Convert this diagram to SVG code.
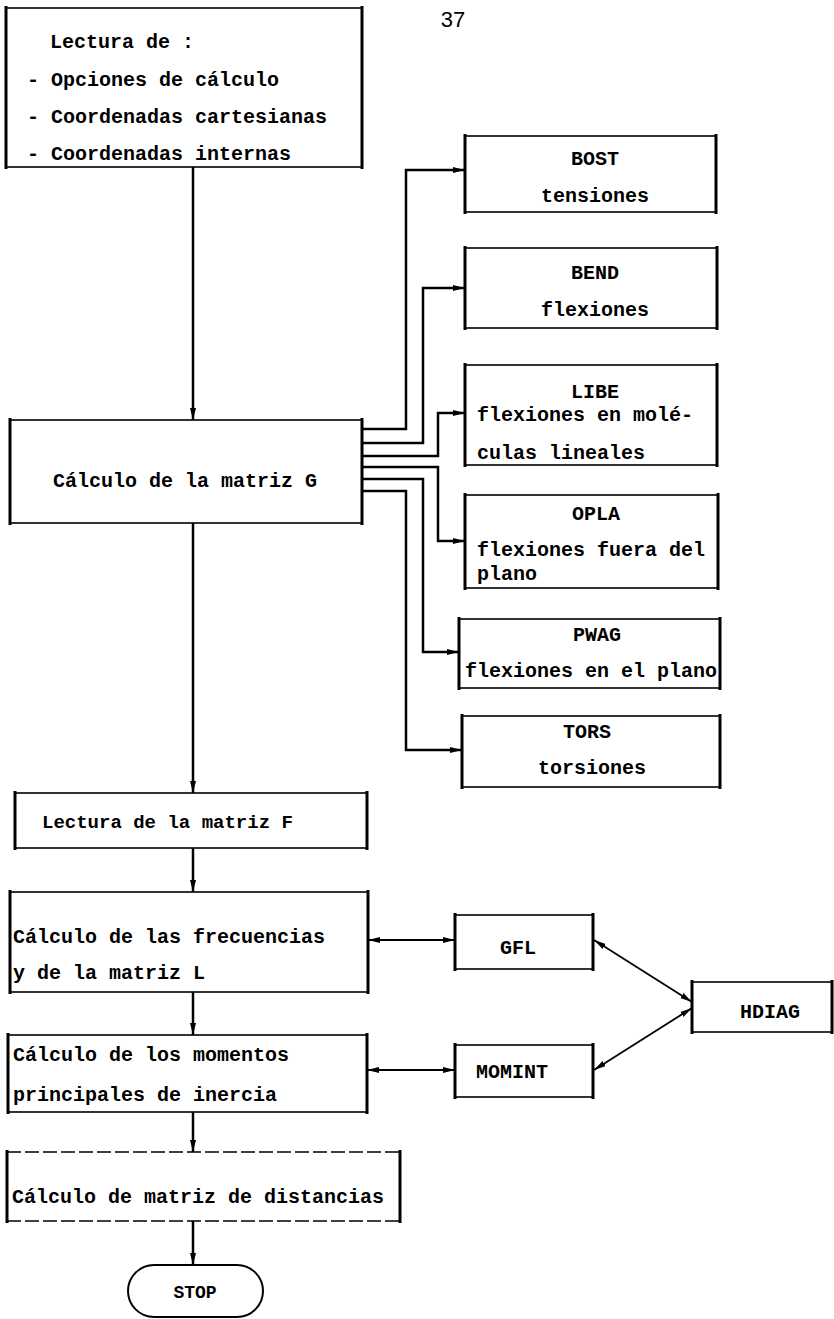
<svg xmlns="http://www.w3.org/2000/svg" width="834" height="1319" viewBox="0 0 834 1319">
<defs>
<marker id="ah" viewBox="0 0 12 8" refX="12" refY="4" markerWidth="12" markerHeight="8" markerUnits="userSpaceOnUse" orient="auto-start-reverse">
<path d="M0,1 L12,4 L0,7 z" fill="#000"/>
</marker>
<style>
.box{fill:#fff;stroke:#000;stroke-width:1.6}
.side{stroke:#000;stroke-width:3;fill:none}
.dash{stroke:#000;stroke-width:1.6;stroke-dasharray:14 4;fill:none}
.t{font-family:"Liberation Mono","DejaVu Sans Mono",monospace;font-weight:bold;font-size:20px;fill:#000}
.c{text-anchor:middle}
.w{fill:none;stroke:#000;stroke-width:2.5}
.n{fill:none;stroke:#000;stroke-width:1.8}
</style>
</defs>
<rect width="834" height="1319" fill="#fff"/>
<text x="453" y="27" font-family="Liberation Sans, sans-serif" font-size="22" text-anchor="middle" fill="#000">37</text>

<g id="connectors">
<path class="w" d="M193,167 V420" marker-end="url(#ah)"/>
<path class="w" d="M193,523 V793" marker-end="url(#ah)"/>
<path class="w" d="M193,848 V892" marker-end="url(#ah)"/>
<path class="w" d="M193,992 V1035" marker-end="url(#ah)"/>
<path class="w" d="M193,1112 V1152" marker-end="url(#ah)"/>
<path class="w" d="M193,1221 V1265" marker-end="url(#ah)"/>
<path class="w" d="M362,429 H406 V170 H465" marker-end="url(#ah)"/>
<path class="w" d="M362,443 H423 V288 H465" marker-end="url(#ah)"/>
<path class="w" d="M362,456 H438 V413 H465" marker-end="url(#ah)"/>
<path class="w" d="M362,467 H438 V541 H465" marker-end="url(#ah)"/>
<path class="w" d="M362,479 H423 V652 H459" marker-end="url(#ah)"/>
<path class="w" d="M362,491 H406 V750 H462" marker-end="url(#ah)"/>
<path class="n" d="M368,940 H455" marker-start="url(#ah)" marker-end="url(#ah)"/>
<path class="n" d="M367,1070 H455" marker-start="url(#ah)" marker-end="url(#ah)"/>
<path class="n" d="M594,940 L692,1002" marker-start="url(#ah)" marker-end="url(#ah)"/>
<path class="n" d="M594,1070 L692,1008" marker-start="url(#ah)" marker-end="url(#ah)"/>
</g>

<g id="lectura">
<rect class="box" x="6" y="8" width="356" height="159"/>
<path class="side" d="M6,6 V169 M362,6 V169"/>
<text class="t" x="50" y="48">Lectura de :</text>
<text class="t" x="27" y="86">- Opciones de cálculo</text>
<text class="t" x="27" y="123">- Coordenadas cartesianas</text>
<text class="t" x="27" y="160">- Coordenadas internas</text>
</g>

<g id="matrizG">
<rect class="box" x="10" y="420" width="352" height="103"/>
<path class="side" d="M10,418 V525 M362,418 V525"/>
<text class="t" x="53" y="487">Cálculo de la matriz G</text>
</g>

<g id="bost">
<rect class="box" x="465" y="136" width="251" height="76"/>
<path class="side" d="M465,134 V214 M716,134 V214"/>
<text class="t c" x="595" y="165">BOST</text>
<text class="t c" x="595" y="202">tensiones</text>
</g>

<g id="bend">
<rect class="box" x="465" y="248" width="252" height="80"/>
<path class="side" d="M465,246 V330 M717,246 V330"/>
<text class="t c" x="595" y="279">BEND</text>
<text class="t c" x="595" y="316">flexiones</text>
</g>

<g id="libe">
<rect class="box" x="465" y="365" width="252" height="100"/>
<path class="side" d="M465,363 V467 M717,363 V467"/>
<text class="t c" x="595" y="398">LIBE</text>
<text class="t" x="477" y="421">flexiones en molé-</text>
<text class="t" x="477" y="459">culas lineales</text>
</g>

<g id="opla">
<rect class="box" x="465" y="495" width="253" height="93"/>
<path class="side" d="M465,493 V590 M718,493 V590"/>
<text class="t c" x="596" y="520">OPLA</text>
<text class="t" x="477" y="556">flexiones fuera del</text>
<text class="t" x="477" y="580">plano</text>
</g>

<g id="pwag">
<rect class="box" x="459" y="619" width="261" height="69"/>
<path class="side" d="M459,617 V690 M720,617 V690"/>
<text class="t c" x="597" y="641">PWAG</text>
<text class="t" x="465" y="677">flexiones en el plano</text>
</g>

<g id="tors">
<rect class="box" x="462" y="716" width="258" height="71"/>
<path class="side" d="M462,714 V789 M720,714 V789"/>
<text class="t c" x="587" y="738">TORS</text>
<text class="t c" x="592" y="774">torsiones</text>
</g>

<g id="matrizF">
<rect class="box" x="15" y="793" width="352" height="55"/>
<path class="side" d="M15,791 V850 M367,791 V850"/>
<text class="t" x="42" y="828" style="font-size:19px">Lectura de la matriz F</text>
</g>

<g id="frecuencias">
<rect class="box" x="10" y="892" width="358" height="100"/>
<path class="side" d="M10,890 V994 M368,890 V994"/>
<text class="t" x="13" y="943">Cálculo de las frecuencias</text>
<text class="t" x="13" y="979">y de la matriz L</text>
</g>

<g id="momentos">
<rect class="box" x="8" y="1035" width="359" height="77"/>
<path class="side" d="M8,1033 V1114 M367,1033 V1114"/>
<text class="t" x="13" y="1061">Cálculo de los momentos</text>
<text class="t" x="13" y="1101">principales de inercia</text>
</g>

<g id="distancias">
<rect x="7" y="1152" width="393" height="69" fill="#fff"/>
<path class="dash" d="M7,1152 H400 M7,1221 H400"/>
<path class="side" d="M7,1150 V1223 M400,1150 V1223"/>
<text class="t" x="12" y="1203">Cálculo de matriz de distancias</text>
</g>

<g id="stop">
<rect class="box" x="128" y="1265" width="135" height="52" rx="26" ry="26" style="stroke-width:2"/>
<text class="t c" x="195" y="1298" style="font-size:18px">STOP</text>
</g>

<g id="gfl">
<rect class="box" x="455" y="915" width="138" height="54"/>
<path class="side" d="M455,913 V971 M593,913 V971"/>
<text class="t c" x="518" y="954">GFL</text>
</g>

<g id="momint">
<rect class="box" x="455" y="1045" width="138" height="52"/>
<path class="side" d="M455,1043 V1099 M593,1043 V1099"/>
<text class="t c" x="512" y="1078">MOMINT</text>
</g>

<g id="hdiag">
<rect class="box" x="692" y="982" width="140" height="50"/>
<path class="side" d="M692,980 V1034 M832,980 V1034"/>
<text class="t c" x="770" y="1018">HDIAG</text>
</g>
</svg>
